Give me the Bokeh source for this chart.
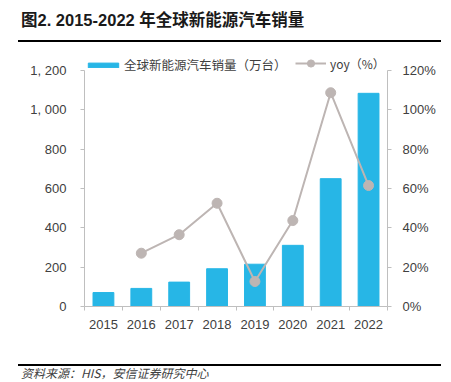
from bokeh.plotting import figure
from bokeh.models import (Range1d, LinearAxis, FixedTicker, Legend, LegendItem, Div,
                          ColumnDataSource, PrintfTickFormatter)
from bokeh.layouts import column
from bokeh.embed import file_html
from bokeh.resources import INLINE

# ---- data ----
years = ["2015", "2016", "2017", "2018", "2019", "2020", "2021", "2022"]
sales = [71, 92, 124, 192, 215, 311, 650, 1084]          # 万台
yoy = [float("nan"), 27.1, 36.5, 52.5, 12.7, 43.7, 108.7, 61.5]  # %
sales_ticks = [0, 200, 400, 600, 800, 1000, 1200]
sales_tick_labels = ["0", "200", "400", "600", "800", "1, 000", "1, 200"]
yoy_ticks = [0, 20, 40, 60, 80, 100, 120]

title_text = "图2. 2015-2022 年全球新能源汽车销量"
bar_label = "全球新能源汽车销量（万台）"
line_label = "yoy（%）"
source_text = "资料来源：HIS，安信证券研究中心"

BAR = "#27B6E6"
LINE = "#BDB5B3"
AXIS = "#BFBFBF"
TXT = "#404040"
FONT = "Liberation Sans"
W = 450
AX_H = 236      # pixel height of the axes (0 .. max tick)
FRAME_H = 258   # frame height incl. room for the legend on top

pos = list(range(1, len(years) + 1))
src = ColumnDataSource(dict(x=pos, sales=sales, yoy=yoy))

p = figure(width=W, height=322, x_range=Range1d(0.5, len(years) + 0.5),
           y_range=Range1d(0, sales_ticks[-1] * FRAME_H / AX_H),
           output_backend="svg", toolbar_location=None,
           min_border_left=84, min_border_right=W - 387, min_border_top=6, min_border_bottom=58,
           outline_line_color=None, background_fill_color="white", border_fill_color="white")
p.margin = 0
p.extra_y_ranges = {"yoy": Range1d(0, yoy_ticks[-1] * FRAME_H / AX_H)}
p.grid.visible = False

bars = p.vbar(x="x", top="sales", width=0.55, source=src, fill_color=BAR, line_color=BAR)
ln = p.line(x="x", y="yoy", source=src, y_range_name="yoy", line_color=LINE, line_width=2)
pts = p.scatter(x="x", y="yoy", source=src, y_range_name="yoy", size=10, line_width=1,
                fill_color=LINE, line_color=LINE)

# bottom axis
xa = p.xaxis[0]
xa.ticker = FixedTicker(ticks=pos, minor_ticks=[i + 0.5 for i in range(len(years) + 1)])
xa.major_label_overrides = {pos[i]: years[i] for i in range(len(years))}
xa.major_tick_line_color = None
xa.major_tick_out = 0
xa.major_tick_in = 0
xa.minor_tick_out = 4
xa.minor_tick_in = 0
xa.minor_tick_line_color = AXIS
xa.axis_line_color = AXIS
xa.major_label_standoff = 9

# left axis
ya = p.yaxis[0]
ya.ticker = FixedTicker(ticks=sales_ticks)
ya.bounds = (sales_ticks[0], sales_ticks[-1])
ya.major_label_overrides = {sales_ticks[i]: sales_tick_labels[i] for i in range(len(sales_ticks))}
ya.major_tick_out = 4
ya.major_tick_in = 0
ya.minor_tick_line_color = None
ya.major_tick_line_color = AXIS
ya.axis_line_color = AXIS
ya.major_label_standoff = 14

# right axis
ra = LinearAxis(y_range_name="yoy", ticker=FixedTicker(ticks=yoy_ticks),
                formatter=PrintfTickFormatter(format="%d%%"),
                bounds=(yoy_ticks[0], yoy_ticks[-1]))
ra.major_tick_out = 4
ra.major_tick_in = 0
ra.minor_tick_line_color = None
ra.major_tick_line_color = AXIS
ra.axis_line_color = AXIS
ra.major_label_standoff = 11
p.add_layout(ra, "right")

for ax in (xa, ya, ra):
    ax.major_label_text_font = FONT
    ax.major_label_text_font_size = "13px"
    ax.major_label_text_color = TXT

common = dict(padding=0, margin=0, border_line_color=None, background_fill_alpha=0,
              label_text_font="Noto Sans CJK SC", label_text_color=TXT,
              orientation="horizontal")
leg1 = Legend(items=[LegendItem(label=bar_label, renderers=[bars])], location=(0, 232),
              glyph_width=38, glyph_height=6, label_height=10, label_standoff=2,
              label_text_font_size="12.5px", **common)
leg2 = Legend(items=[LegendItem(label=line_label, renderers=[ln, pts])], location=(211, 234),
              glyph_width=31, glyph_height=18, label_height=10, label_standoff=4,
              label_text_font_size="12px", **common)
p.add_layout(leg1, "center")
p.add_layout(leg2, "center")

title = Div(text=(
    '<div style="padding-left:21px;padding-top:8px;font-family:\'Liberation Sans\',\'Noto Sans CJK SC\';'
    'font-size:16.5px;line-height:24px;color:#1a1a1a;white-space:nowrap;font-weight:bold;">'
    + title_text + '</div>'), width=W, height=40, margin=0)
rule1 = Div(text="", width=423, height=2, margin=(0, 0, 0, 18),
            styles={"background-color": "#000000"})
rule2 = Div(text="", width=423, height=2, margin=(0, 0, 0, 18),
            styles={"background-color": "#000000"})
src_div = Div(text=(
    '<div style="padding-left:21px;font-family:\'Noto Sans CJK SC\';font-style:italic;font-size:12px;'
    'line-height:14px;color:#404040;white-space:nowrap;">' + source_text + '</div>'),
    width=W, height=14, margin=0)

layout = column(title, rule1, p, rule2, src_div, margin=0, spacing=0)
open("out.html", "w").write(file_html(layout, INLINE))
